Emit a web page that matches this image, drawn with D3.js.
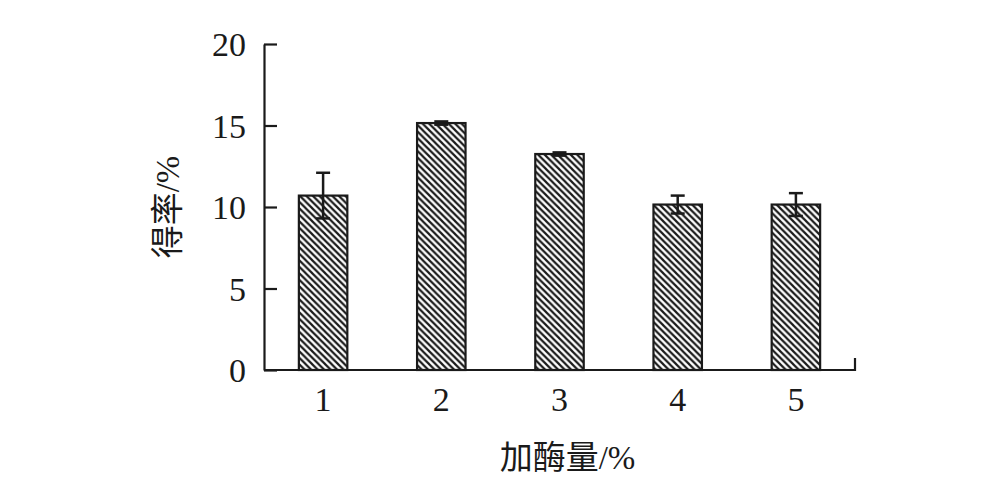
<!DOCTYPE html>
<html>
<head>
<meta charset="utf-8">
<script src="https://cdn.jsdelivr.net/npm/d3@7/dist/d3.min.js"></script>
<style>
  html, body { margin: 0; padding: 0; background: #fff; }
  svg { display: block; }
  text { font-family: "Liberation Serif", "Noto Sans CJK SC", serif; fill: #1a1a1a; }
</style>
</head>
<body>
<script>
// ---- data ----
const categories = ["1", "2", "3", "4", "5"];
const values = [10.7, 15.15, 13.25, 10.15, 10.15];
const errors = [1.4, 0.1, 0.1, 0.55, 0.7];
const yTicks = [0, 5, 10, 15, 20];
const xTitle = "加酶量/%";
const yTitle = "得率/%";

const W = 1003, H = 482;
const mLeft = 264, mRight = 855, mTop = 44, mBottom = 370;

const svg = d3.select("body").append("svg")
  .attr("width", W).attr("height", H);

const P = 6.5;
const defs = svg.append("defs");
const pat = defs.append("pattern")
  .attr("id", "hatch")
  .attr("patternUnits", "userSpaceOnUse")
  .attr("width", P).attr("height", P);
pat.append("rect").attr("width", P).attr("height", P).attr("fill", "#fff");
pat.append("path")
  .attr("d", `M-1,-1 L${P + 1},${P + 1} M-1,${P - 1} L1,${P + 1} M${P - 1},-1 L${P + 1},1`)
  .attr("stroke", "#1a1a1a").attr("stroke-width", 2.2);

const x = d3.scaleBand().domain(categories).range([mLeft, mRight]).paddingInner(0).paddingOuter(0);
const y = d3.scaleLinear().domain([0, 20]).range([mBottom, mTop]);
const barW = x.bandwidth() * 0.41;

// bars
const g = svg.append("g");
g.selectAll("rect.bar").data(categories).join("rect")
  .attr("class", "bar")
  .attr("x", d => x(d) + x.bandwidth() / 2 - barW / 2)
  .attr("y", (d, i) => y(values[i]))
  .attr("width", barW)
  .attr("height", (d, i) => y(0) - y(values[i]))
  .attr("fill", "url(#hatch)")
  .attr("stroke", "#1a1a1a")
  .attr("stroke-width", 2.2);

// error bars
const capW = 14;
categories.forEach((c, i) => {
  const cx = x(c) + x.bandwidth() / 2;
  const y1 = y(values[i] + errors[i]);
  const y2 = y(values[i] - errors[i]);
  const eg = g.append("g").attr("stroke", "#1a1a1a").attr("stroke-width", 2.5);
  eg.append("line").attr("x1", cx).attr("x2", cx).attr("y1", y1).attr("y2", y2);
  eg.append("line").attr("x1", cx - capW / 2).attr("x2", cx + capW / 2).attr("y1", y1).attr("y2", y1);
  eg.append("line").attr("x1", cx - capW / 2).attr("x2", cx + capW / 2).attr("y1", y2).attr("y2", y2);
});

// y axis
const yAxis = d3.axisRight(y).tickValues(yTicks).tickSize(13).tickSizeOuter(0).tickFormat(d3.format("d"));
const ya = svg.append("g").attr("transform", `translate(${mLeft},0)`).call(yAxis);
ya.select(".domain").attr("stroke", "#1a1a1a").attr("stroke-width", 2.2);
ya.selectAll(".tick line").attr("stroke", "#1a1a1a").attr("stroke-width", 2.2);
ya.selectAll(".tick text")
  .attr("x", -18).attr("dy", "0.34em")
  .attr("text-anchor", "end")
  .style("font-size", "34px").attr("fill", "#1a1a1a");

// x axis
const xAxis = d3.axisBottom(x).tickSize(0).tickSizeOuter(0);
const xa = svg.append("g").attr("transform", `translate(0,${mBottom})`).call(xAxis);
xa.select(".domain").attr("stroke", "#1a1a1a").attr("stroke-width", 2.2)
  .attr("d", `M${mLeft},0H${mRight}V-12`);
xa.selectAll(".tick text")
  .attr("y", 41).attr("dy", 0)
  .style("font-size", "34px").attr("fill", "#1a1a1a");

// titles
svg.append("text")
  .attr("x", (mLeft + mRight) / 2 + 8).attr("y", 469)
  .attr("text-anchor", "middle")
  .style("font-size", "33px")
  .text(xTitle);

svg.append("text")
  .attr("transform", `translate(179,${(mTop + mBottom) / 2}) rotate(-90)`)
  .attr("text-anchor", "middle")
  .style("font-size", "33px")
  .text(yTitle);
</script>
</body>
</html>
